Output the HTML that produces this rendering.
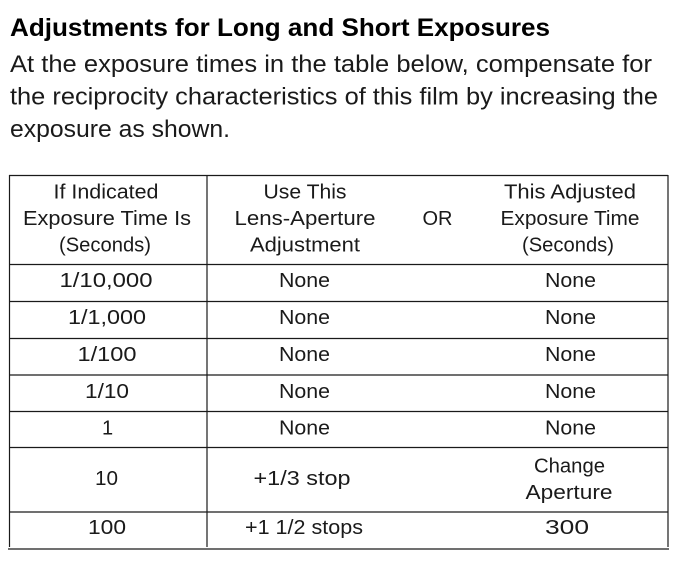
<!DOCTYPE html>
<html>
<head>
<meta charset="utf-8">
<style>
  html, body { margin: 0; padding: 0; background: #fff; }
  svg { display: block; }
  text { font-family: "Liberation Sans", "DejaVu Sans", sans-serif; fill: #1a1a1a; }
  .title { font-weight: bold; font-size: 25px; fill: #000; }
  .body { font-size: 24px; }
  .cell { font-size: 20px; }
</style>
</head>
<body>
<svg width="680" height="562" viewBox="0 0 680 562" xmlns="http://www.w3.org/2000/svg">
  <rect x="0" y="0" width="680" height="562" fill="#fff"/>

  <!-- Heading -->
  <text class="title" x="10" y="36" textLength="540" lengthAdjust="spacingAndGlyphs">Adjustments for Long and Short Exposures</text>
  <text class="body" x="10" y="72" textLength="642" lengthAdjust="spacingAndGlyphs">At the exposure times in the table below, compensate for</text>
  <text class="body" x="10" y="104.5" textLength="648" lengthAdjust="spacingAndGlyphs">the reciprocity characteristics of this film by increasing the</text>
  <text class="body" x="10" y="137" textLength="220" lengthAdjust="spacingAndGlyphs">exposure as shown.</text>

  <!-- Table lines -->
  <g stroke="#1a1a1a" stroke-width="1.2" fill="none">
    <line x1="9" y1="175.5" x2="668" y2="175.5"/>
    <line x1="9" y1="264.5" x2="668" y2="264.5"/>
    <line x1="9" y1="301.5" x2="668" y2="301.5"/>
    <line x1="9" y1="338.5" x2="668" y2="338.5"/>
    <line x1="9" y1="375" x2="668" y2="375"/>
    <line x1="9" y1="411.5" x2="668" y2="411.5"/>
    <line x1="9" y1="447.5" x2="668" y2="447.5"/>
    <line x1="9" y1="512" x2="668" y2="512"/>
    <line x1="8" y1="549" x2="669" y2="549"/>
    <line x1="9.5" y1="175" x2="9.5" y2="547"/>
    <line x1="207" y1="175" x2="207" y2="547"/>
    <line x1="668" y1="175" x2="668" y2="547"/>
  </g>

  <!-- Header -->
  <g class="cell" text-anchor="middle">
    <text class="cell" x="106" y="198.5" textLength="105" lengthAdjust="spacingAndGlyphs">If Indicated</text>
    <text class="cell" x="107" y="225" textLength="168" lengthAdjust="spacingAndGlyphs">Exposure Time Is</text>
    <text class="cell" x="105" y="251.5" textLength="92" lengthAdjust="spacingAndGlyphs">(Seconds)</text>

    <text class="cell" x="305" y="198.5" textLength="83" lengthAdjust="spacingAndGlyphs">Use This</text>
    <text class="cell" x="305" y="225" textLength="141" lengthAdjust="spacingAndGlyphs">Lens-Aperture</text>
    <text class="cell" x="305" y="251.5" textLength="110" lengthAdjust="spacingAndGlyphs">Adjustment</text>

    <text class="cell" x="437.5" y="225" textLength="30" lengthAdjust="spacingAndGlyphs">OR</text>

    <text class="cell" x="570" y="198.5" textLength="132" lengthAdjust="spacingAndGlyphs">This Adjusted</text>
    <text class="cell" x="570" y="225" textLength="139" lengthAdjust="spacingAndGlyphs">Exposure Time</text>
    <text class="cell" x="568" y="251.5" textLength="92" lengthAdjust="spacingAndGlyphs">(Seconds)</text>
  </g>

  <!-- Rows -->
  <g text-anchor="middle">
    <text class="cell" x="106" y="287" textLength="93" lengthAdjust="spacingAndGlyphs">1/10,000</text>
    <text class="cell" x="304.5" y="287" textLength="51" lengthAdjust="spacingAndGlyphs">None</text>
    <text class="cell" x="570.5" y="287" textLength="51" lengthAdjust="spacingAndGlyphs">None</text>

    <text class="cell" x="107" y="324" textLength="78" lengthAdjust="spacingAndGlyphs">1/1,000</text>
    <text class="cell" x="304.5" y="324" textLength="51" lengthAdjust="spacingAndGlyphs">None</text>
    <text class="cell" x="570.5" y="324" textLength="51" lengthAdjust="spacingAndGlyphs">None</text>

    <text class="cell" x="107" y="361" textLength="59" lengthAdjust="spacingAndGlyphs">1/100</text>
    <text class="cell" x="304.5" y="361" textLength="51" lengthAdjust="spacingAndGlyphs">None</text>
    <text class="cell" x="570.5" y="361" textLength="51" lengthAdjust="spacingAndGlyphs">None</text>

    <text class="cell" x="107" y="398" textLength="44" lengthAdjust="spacingAndGlyphs">1/10</text>
    <text class="cell" x="304.5" y="398" textLength="51" lengthAdjust="spacingAndGlyphs">None</text>
    <text class="cell" x="570.5" y="398" textLength="51" lengthAdjust="spacingAndGlyphs">None</text>

    <text class="cell" x="107.5" y="434.5">1</text>
    <text class="cell" x="304.5" y="434.5" textLength="51" lengthAdjust="spacingAndGlyphs">None</text>
    <text class="cell" x="570.5" y="434.5" textLength="51" lengthAdjust="spacingAndGlyphs">None</text>

    <text class="cell" x="106.5" y="485" textLength="23" lengthAdjust="spacingAndGlyphs">10</text>
    <text class="cell" x="302" y="485" textLength="97" lengthAdjust="spacingAndGlyphs">+1/3 stop</text>
    <text class="cell" x="569.5" y="472.5" textLength="71" lengthAdjust="spacingAndGlyphs">Change</text>
    <text class="cell" x="569" y="499" textLength="87" lengthAdjust="spacingAndGlyphs">Aperture</text>

    <text class="cell" x="107" y="534" textLength="38" lengthAdjust="spacingAndGlyphs">100</text>
    <text class="cell" x="304" y="534" textLength="118" lengthAdjust="spacingAndGlyphs">+1 1/2 stops</text>
    <text class="cell" x="567" y="534" textLength="44" lengthAdjust="spacingAndGlyphs">300</text>
  </g>
</svg>
</body>
</html>
